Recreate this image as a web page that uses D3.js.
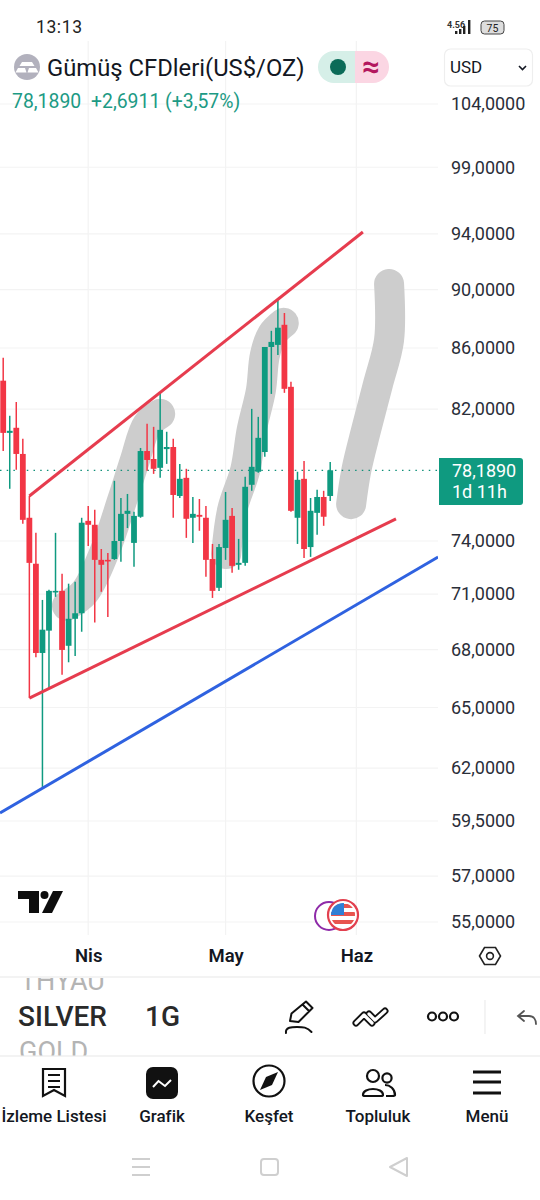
<!DOCTYPE html>
<html lang="tr">
<head>
<meta charset="utf-8">
<title>Gümüş CFDleri</title>
<script src="https://cdn.jsdelivr.net/npm/d3@7/dist/d3.min.js"></script>
<style>
html,body{margin:0;padding:0;background:#fff;}
svg{display:block;font-family:Roboto,"Noto Sans",sans-serif;}
</style>
</head>
<body>
<svg id="chart" width="540" height="1200"></svg>
<script>
// Daily silver CFD candles, oldest first
const opens  = [83.84,80.50,80.82,79.19,75.35,72.70,67.82,69.01,71.13,71.18,68.20,69.65,69.95,75.17,74.94,72.92,72.92,72.97,74.00,75.58,73.89,75.41,79.37,78.88,78.34,79.49,79.62,76.64,77.73,75.35,75.52,75.35,72.97,71.35,73.60,75.46,72.64,72.75,77.31,78.10,79.31,86.07,86.21,87.57,83.44,75.35,77.67,73.65,75.64,76.58,76.64];
const highs  = [85.35,81.58,82.46,80.13,76.64,74.47,70.68,71.24,74.47,72.14,71.58,71.69,75.35,76.05,75.82,73.54,73.31,77.55,76.52,76.76,75.70,79.56,81.07,80.88,83.05,80.57,80.13,78.58,78.28,76.58,76.46,76.05,73.83,73.83,76.88,75.93,74.12,77.79,82.02,81.51,86.07,87.16,89.27,88.38,83.77,78.10,78.76,76.52,77.01,76.95,78.70];
const lows   = [79.37,77.07,78.22,75.00,65.48,67.60,61.10,66.00,70.85,66.68,67.33,67.66,68.95,73.71,69.45,71.13,69.75,72.92,72.81,74.75,72.53,75.35,78.16,77.97,77.73,78.58,75.35,76.52,74.18,73.89,74.59,71.97,70.79,71.18,72.92,72.19,72.36,72.58,76.95,78.04,79.01,82.98,85.54,83.05,75.70,73.83,73.03,73.09,74.36,74.88,76.34];
const closes = [80.50,80.63,79.19,75.23,72.75,67.82,69.06,71.18,71.18,67.98,69.65,69.95,75.06,74.94,72.92,72.64,72.86,74.00,75.58,75.76,75.46,79.37,78.82,78.28,80.69,79.62,76.70,77.67,75.29,75.58,75.41,72.92,71.18,73.65,75.23,72.58,72.75,77.19,78.40,80.19,86.07,86.41,87.37,83.31,75.76,77.61,73.54,75.76,76.58,75.41,78.189];

// Price axis and month axis
const priceTicks = [104,99,94,90,86,82,74,71,68,65,62,59.5,57,55];
const monthTicks = [13,34,54];
const monthNames = ["Nis","May","Haz"];
const lastPrice = 78.189;

// Hand-drawn trend lines as [candle index, price]
const upperTrend = [[55,94.13],[4,76.64]];
const lowerTrend = [[4,65.48],[60.06,75.28]];
const blueTrend  = [[-0.49,59.87],[66.5,73.08]];

// Marker strokes as [candle index, price]
const markerA = [[9.75,70.36],[12.5,71.13],[15.6,73.48],[18.2,76.40],[20.15,78.82],[22.0,81.0],[24.0,81.7]];
const markerB = [[34.1,73.25],[35.0,75.8],[37.0,78.2],[38.0,80.7],[39.4,83.2],[40.0,85.5],[41.1,86.9],[42.9,87.7]];
const markerC = [[53.2,76.15],[54.0,78.2],[55.5,80.7],[57.3,83.6],[59.0,86.55],[59.0,90.4]];

const navItems = ["İzleme Listesi","Grafik","Keşfet","Topluluk","Menü"];

const UP = "#0f9a80", DOWN = "#f23645", GRID = "#f3f3f3", INK = "#131722";

const svg = d3.select("#chart");
const x = d3.scaleLinear().domain([0,50]).range([3.2,330.2]);
const y = d3.scaleLog().domain([55,104]).range([922,104]);
const comma = d3.formatLocale({decimal:",",thousands:".",grouping:[3],currency:["$",""]}).format(".4f");

// ---- plot area ----
svg.append("defs").append("clipPath").attr("id","plot")
  .append("rect").attr("x",0).attr("y",40).attr("width",438).attr("height",895);

const grid = svg.append("g");
grid.selectAll("line.h").data(priceTicks).join("line").attr("class","h")
  .attr("x1",0).attr("x2",438).attr("y1",d=>y(d)).attr("y2",d=>y(d))
  .attr("stroke",GRID).attr("stroke-width",1.2);
grid.selectAll("line.v").data(monthTicks).join("line").attr("class","v")
  .attr("y1",41).attr("y2",935).attr("x1",d=>x(d)).attr("x2",d=>x(d))
  .attr("stroke",GRID).attr("stroke-width",1.2);

const plot = svg.append("g").attr("clip-path","url(#plot)");

const pathOf = d3.line().x(d=>x(d[0])).y(d=>y(d[1]));
const softPath = d3.line().x(d=>x(d[0])).y(d=>y(d[1])).curve(d3.curveCatmullRom.alpha(0.5));

plot.selectAll("path.marker").data([markerA,markerB,markerC]).join("path").attr("class","marker")
  .attr("d",softPath).attr("fill","none").attr("stroke","#cdcdcd")
  .attr("stroke-width",30).attr("stroke-linecap","round").attr("stroke-linejoin","round");

const candles = opens.map((o,i)=>({i,o,h:highs[i],l:lows[i],c:closes[i]}));
const colorOf = d=>d.c>=d.o?UP:DOWN;

plot.append("line").attr("x1",0).attr("x2",438).attr("y1",y(lastPrice)).attr("y2",y(lastPrice))
  .attr("stroke","#0f8f78").attr("stroke-width",1.3).attr("stroke-dasharray","1.5 5.2");

plot.selectAll("line.wick").data(candles).join("line").attr("class","wick")
  .attr("x1",d=>x(d.i)).attr("x2",d=>x(d.i)).attr("y1",d=>y(d.h)).attr("y2",d=>y(d.l))
  .attr("stroke",colorOf).attr("stroke-width",1.5);
plot.selectAll("rect.body").data(candles).join("rect").attr("class","body")
  .attr("x",d=>x(d.i)-2.9).attr("width",5.8)
  .attr("y",d=>y(Math.max(d.o,d.c)))
  .attr("height",d=>Math.max(1.6,y(Math.min(d.o,d.c))-y(Math.max(d.o,d.c))))
  .attr("fill",colorOf);

plot.selectAll("path.trend").data([upperTrend,lowerTrend]).join("path").attr("class","trend")
  .attr("d",pathOf).attr("fill","none").attr("stroke","#e63c4e").attr("stroke-width",3);
plot.append("path").datum(blueTrend).attr("d",pathOf).attr("fill","none")
  .attr("stroke","#2f62e0").attr("stroke-width",3);

// ---- axes ----
const priceAxis = d3.axisRight(y).tickValues(priceTicks).tickFormat(comma).tickSize(0).tickPadding(0);
const pa = svg.append("g").attr("transform","translate(451,0)").call(priceAxis);
pa.select(".domain").remove();
pa.selectAll("text").attr("font-family","Roboto").attr("font-size",18).attr("fill","#2a2e39");

const monthAxis = d3.axisBottom(x).tickValues(monthTicks).tickFormat((d,i)=>monthNames[i]).tickSize(0).tickPadding(0);
const ma = svg.append("g").attr("transform","translate(0,949)").call(monthAxis);
ma.select(".domain").remove();
ma.selectAll("text").attr("font-family","Roboto").attr("font-size",18.5).attr("font-weight",600).attr("fill",INK);

// Last price tag
svg.append("path").attr("d","M439 458H520a3 3 0 0 1 3 3V502a3 3 0 0 1-3 3H439Z").attr("fill","#0f9a80");
const tag = svg.append("g").attr("fill","#fff").attr("font-size",18);
tag.append("text").attr("x",452).attr("y",477).text(comma(lastPrice));
tag.append("text").attr("x",452).attr("y",498).text("1d 11h");

// ---- header ----
svg.append("text").attr("x",36).attr("y",33).attr("font-size",17.5).attr("letter-spacing",0.6).attr("fill","#222").text("13:13");
const status = svg.append("g");
status.append("text").attr("x",447).attr("y",28).attr("font-size",9).attr("font-weight",700).attr("fill","#333").text("4.56");
status.selectAll("rect").data([[455,3],[459,5],[463,8],[468,14]]).join("rect")
  .attr("x",d=>d[0]).attr("y",d=>34-d[1]).attr("width",2.4).attr("height",d=>d[1]).attr("fill","#222");
status.append("rect").attr("x",481).attr("y",21).attr("width",23).attr("height",13).attr("rx",3.5)
  .attr("fill","#ddd").attr("stroke","#444").attr("stroke-width",1);
status.append("text").attr("x",492.5).attr("y",31.5).attr("text-anchor","middle").attr("font-size",10.5).attr("fill","#222").text("75");

const coin = svg.append("g");
coin.append("circle").attr("cx",27).attr("cy",67).attr("r",13).attr("fill","#b2b1bd");
coin.append("path").attr("d","M22 62H32L34.5 66H19.5ZM15.5 72.5 18 68H25L26.5 72.5ZM27.5 72.5 29 68H36L38.5 72.5Z").attr("fill","#fff");
svg.append("text").attr("x",47).attr("y",75.5).attr("font-size",23.8).attr("fill",INK).text("Gümüş CFDleri(US$/OZ)");

svg.append("path").attr("d","M355 51H334a16 16 0 0 0 0 32H355Z").attr("fill","#d6efe8");
svg.append("path").attr("d","M355 51H373a16 16 0 0 1 0 32H355Z").attr("fill","#fbd6e3");
svg.append("circle").attr("cx",338).attr("cy",67).attr("r",8).attr("fill","#0b6b58");
svg.append("text").attr("x",371).attr("y",77).attr("text-anchor","middle").attr("font-size",31).attr("font-weight",700).attr("fill","#b3175e").text("≈");

svg.append("rect").attr("x",444.5).attr("y",49).attr("width",88).attr("height",37).attr("rx",6)
  .attr("fill","#fff").attr("stroke","#eeeeee").attr("stroke-width",1.2);
svg.append("text").attr("x",450).attr("y",73).attr("font-size",17).attr("fill",INK).text("USD");
svg.append("path").attr("d","M519 66l3.5 3.5 3.5-3.5").attr("fill","none").attr("stroke",INK).attr("stroke-width",1.6);

const quote = svg.append("g").attr("font-size",19.4).attr("fill","#1c9a84");
quote.append("text").attr("x",12).attr("y",108).text("78,1890");
quote.append("text").attr("x",91).attr("y",108).text("+2,6911 (+3,57%)");

// ---- chart badges ----
svg.append("path").attr("d","M18 891H39V913H29V899H18ZM53 891H63L52 913H42Z").attr("fill","#0d0d0d");
svg.append("circle").attr("cx",44.5).attr("cy",895).attr("r",4).attr("fill","#0d0d0d");

svg.append("circle").attr("cx",329).attr("cy",916).attr("r",14).attr("fill","#fff").attr("stroke","#8e2aa8").attr("stroke-width",2);
svg.append("circle").attr("cx",343).attr("cy",915).attr("r",15).attr("fill","#fff").attr("stroke","#e2404f").attr("stroke-width",2.2);
svg.append("defs").append("clipPath").attr("id","flag").append("circle").attr("cx",343).attr("cy",915).attr("r",12);
const flag = svg.append("g").attr("clip-path","url(#flag)");
flag.selectAll("rect.s").data([0,1,2]).join("rect").attr("class","s")
  .attr("x",330).attr("width",26).attr("y",d=>904+d*8).attr("height",4).attr("fill","#e8544f");
flag.append("rect").attr("x",330).attr("y",903).attr("width",14).attr("height",12).attr("fill","#2f7fd6");

// Settings hexagon beside the month axis
svg.append("path").attr("d","M479.5 956 484.5 947.5H495.5L500.5 956 495.5 964.5H484.5Z").attr("fill","none").attr("stroke","#222").attr("stroke-width",1.6);
svg.append("circle").attr("cx",490).attr("cy",956).attr("r",3.4).attr("fill","none").attr("stroke","#222").attr("stroke-width",1.6);

// ---- symbol picker and toolbar ----
svg.append("line").attr("x1",0).attr("x2",540).attr("y1",977).attr("y2",977).attr("stroke","#e8e8e8").attr("stroke-width",1.2);
svg.append("line").attr("x1",0).attr("x2",540).attr("y1",1056).attr("y2",1056).attr("stroke","#e8e8e8").attr("stroke-width",1.2);
svg.append("defs").append("clipPath").attr("id","picker").append("rect").attr("x",0).attr("y",978).attr("width",280).attr("height",77.5);
const picker = svg.append("g").attr("clip-path","url(#picker)");
picker.append("text").attr("x",20).attr("y",990).attr("font-size",27).attr("fill","#b4b4b4").text("THYAU");
picker.append("text").attr("x",18).attr("y",1026).attr("font-size",28).attr("font-weight",500).attr("fill","#2a2a2a").text("SILVER");
picker.append("text").attr("x",145).attr("y",1026).attr("font-size",28).attr("font-weight",500).attr("fill","#2a2a2a").text("1G");
picker.append("text").attr("x",19).attr("y",1061).attr("font-size",27).attr("fill","#b4b4b4").text("GOLD");

const tools = svg.append("g").attr("fill","none").attr("stroke","#111").attr("stroke-width",2).attr("stroke-linecap","round").attr("stroke-linejoin","round");
// Pencil with its signature squiggle
tools.append("path").attr("d","M290 1021 291.5 1013.5 306 1001.5 312.5 1008 298.5 1022ZM302.5 1004.5 309 1011");
tools.append("path").attr("d","M286 1033C285 1027 292 1027 297 1027 303 1027 307 1027 311.5 1032");
// Chevron pair, outlined by a white core over a dark stroke
const chevrons = "M356 1023 364 1015 372 1023M369 1014 375 1020 385 1011";
tools.append("path").attr("d",chevrons).attr("stroke-width",7);
tools.append("path").attr("d",chevrons).attr("stroke","#fff").attr("stroke-width",3.2);
[432,443,454].forEach(cx=>tools.append("circle").attr("cx",cx).attr("cy",1016.5).attr("r",4).attr("stroke-width",2.2));
svg.append("line").attr("x1",485).attr("x2",485).attr("y1",1000).attr("y2",1034).attr("stroke","#ececec").attr("stroke-width",1.2);
svg.append("path").attr("d","M524 1011 518 1016 524 1021M518 1016H529C534 1016 536 1020 536 1024").attr("fill","none").attr("stroke","#555").attr("stroke-width",1.8).attr("stroke-linecap","round");

// ---- bottom navigation ----
const navX = [54,162,269,378,487];
svg.append("g").selectAll("text").data(navItems).join("text")
  .attr("x",(d,i)=>navX[i]).attr("y",1122).attr("text-anchor","middle")
  .attr("font-size",17).attr("font-weight",500).attr("fill",INK).text(d=>d);

const nav = svg.append("g").attr("fill","none").attr("stroke","#111").attr("stroke-width",2.2);
nav.append("path").attr("d","M43 1069H65V1096L54 1090 43 1096Z");
nav.append("path").attr("d","M48 1075H60M48 1081H60M48 1087H60").attr("stroke-width",1.8);
svg.append("rect").attr("x",146).attr("y",1067).attr("width",32).attr("height",32).attr("rx",7).attr("fill","#111");
svg.append("path").attr("d","M153 1087 158.5 1081 165 1086 171 1080").attr("fill","none").attr("stroke","#fff").attr("stroke-width",2);
nav.append("circle").attr("cx",269).attr("cy",1081).attr("r",15.5);
svg.append("path").attr("d","M278 1072 272 1085 260 1090 266 1077Z").attr("fill","#111");
nav.append("circle").attr("cx",373).attr("cy",1076).attr("r",6);
nav.append("circle").attr("cx",387).attr("cy",1078).attr("r",4.6);
nav.append("path").attr("d","M363 1095C363 1087 383 1087 383 1095 383 1096 382 1096 381 1096H365C364 1096 363 1096 363 1095ZM385 1085C390 1085 395 1089 395 1095 395 1096 393 1096 392 1096H386");
nav.append("path").attr("d","M473 1072H501M473 1082H501M473 1093H501").attr("stroke-width",3);

// ---- system bar ----
const sys = svg.append("g").attr("fill","none").attr("stroke","#cfcfcf").attr("stroke-width",2);
sys.append("path").attr("d","M132 1159H150M132 1167H150M132 1175H150");
sys.append("rect").attr("x",261).attr("y",1159).attr("width",17).attr("height",16).attr("rx",3);
sys.append("path").attr("d","M407 1158V1176L390 1167Z").attr("stroke-linejoin","round");
</script>
</body>
</html>
